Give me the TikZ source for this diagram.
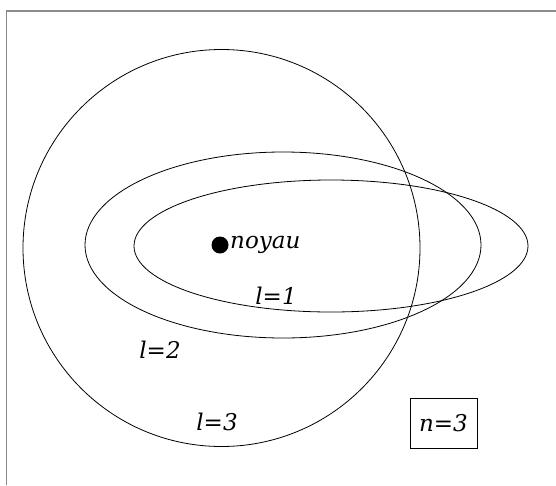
\documentclass[tikz,border=0pt]{standalone}
\usepackage{fontspec}
\setmainfont{DejaVu Serif}
\usetikzlibrary{positioning}

\begin{document}
\begin{tikzpicture}[x=1pt, y=-1pt, font=\fontsize{23}{27}\selectfont\itshape]
\useasboundingbox (0,0) rectangle (556,485);
\tikzset{orbite/.style={draw, line width=0.8pt}}
\tikzset{etiquette/.style={inner sep=1pt}}
% cadre
\draw[gray!90, line width=1.6pt] (6.5,485) -- (6.5,11) -- (556,11);
% orbites
\draw[orbite] (221.5,248) circle[radius=198.5];
\draw[orbite] (283,245) ellipse[x radius=198, y radius=93];
\draw[orbite] (331,246) ellipse[x radius=197, y radius=66];
% noyau
\fill (220,245) circle[radius=8.5];
\node[etiquette, anchor=west] (noyau) at (229,245) {noyau};
\node[etiquette] (l1) at (276,296) {l=1};
\node[etiquette] (l2) at (160,350) {l=2};
\node[etiquette] (l3) at (217,422) {l=3};
\node[draw, line width=0.8pt, minimum width=67pt, minimum height=50pt, inner sep=0pt] (n3) at (443.5,423) {n=3};
\end{tikzpicture}
\end{document}
